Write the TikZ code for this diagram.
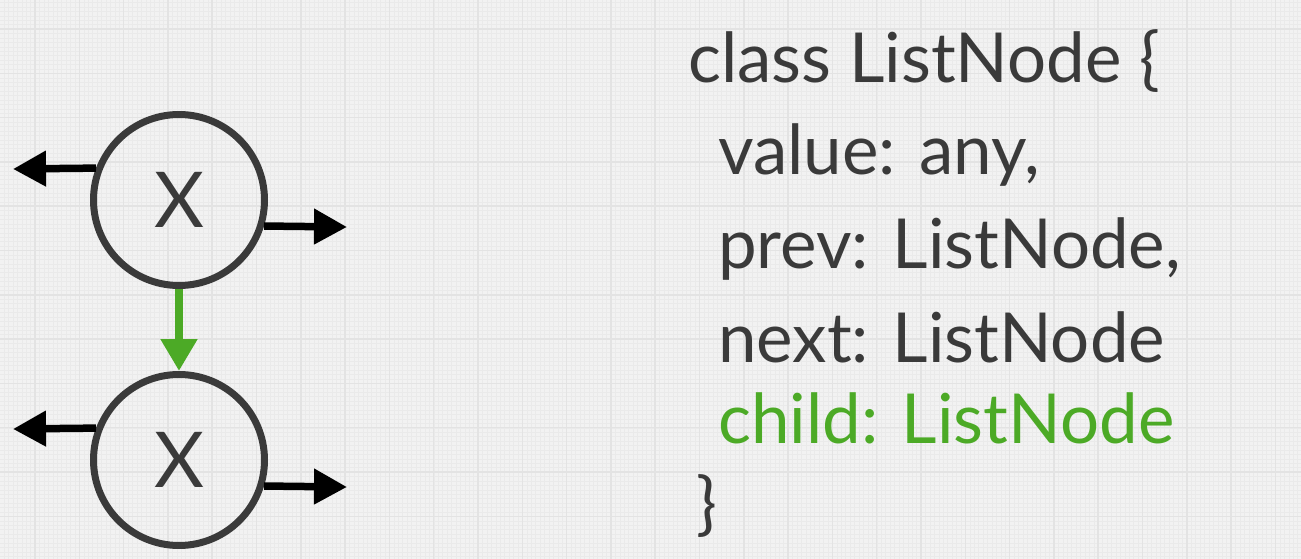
\documentclass[tikz,border=0pt]{standalone}
\usepackage{fontspec}
\setmainfont{Lato}
\usetikzlibrary{arrows.meta}
\definecolor{bg}{HTML}{F2F2F2}
\definecolor{gridmajor}{HTML}{E3E3E3}
\definecolor{gridminor}{HTML}{EAEAEA}
\definecolor{ink}{HTML}{3A3A3A}
\definecolor{leaf}{HTML}{4CAA26}
\tikzset{
  listnode/.style={circle, draw=ink, line width=7pt, minimum size=171pt, inner sep=0pt, text=ink, font=\fontsize{77}{77}\selectfont},
  ptr/.style={line width=7.5pt, black, -{Triangle[length=33pt,width=34pt]}},
  childptr/.style={line width=8pt, leaf, -{Triangle[length=32pt,width=35pt]}},
  code/.style={anchor=base west, inner sep=0pt, text=ink, font=\fontsize{69}{69}\selectfont},
}
\begin{document}
\begin{tikzpicture}[x=1pt,y=-1pt]
\useasboundingbox (0,0) rectangle (1301,559);
\fill[bg] (0,0) rectangle (1301,559);
% minor grid
\foreach \i in {0,...,300} {
  \pgfmathsetmacro{\gx}{-9.3+4.43*\i}
  \draw[gridminor, line width=0.4pt] (\gx,0) -- (\gx,559);
}
\foreach \i in {0,...,130} {
  \pgfmathsetmacro{\gy}{-15.3+4.43*\i}
  \draw[gridminor, line width=0.4pt] (0,\gy) -- (1301,\gy);
}
% major grid
\foreach \i in {0,...,30} {
  \pgfmathsetmacro{\gx}{-9.3+44.3*\i}
  \draw[gridmajor, line width=1.5pt] (\gx,0) -- (\gx,559);
}
\foreach \i in {0,...,13} {
  \pgfmathsetmacro{\gy}{-15.3+44.3*\i}
  \draw[gridmajor, line width=1.5pt] (0,\gy) -- (1301,\gy);
}
% nodes
\node[listnode] (top) at (179,200) {X};
\node[listnode] (bot) at (179,460) {X};
\coordinate (tl) at (13,169);
\coordinate (tr) at (347,227);
\coordinate (bl) at (13,429);
\coordinate (br) at (347,487);
\draw[ptr] (top.159.6) -- (tl);
\draw[ptr] (top.-17.7) -- (tr);
\draw[ptr] (bot.159.6) -- (bl);
\draw[ptr] (bot.-17.7) -- (br);
\draw[childptr] (top.south) -- (bot.north);
% code
\node[code] (l1) at (688,83) {class ListNode \{};
\node[code] (l2) at (718,175) {value: any,};
\node[code] (l3) at (718,268) {prev: ListNode,};
\node[code] (l4) at (718,362) {next: ListNode};
\node[code, text=leaf] (l5) at (718,443) {child: ListNode};
\node[code] (l6) at (696,527) {\}};
\end{tikzpicture}
\end{document}
